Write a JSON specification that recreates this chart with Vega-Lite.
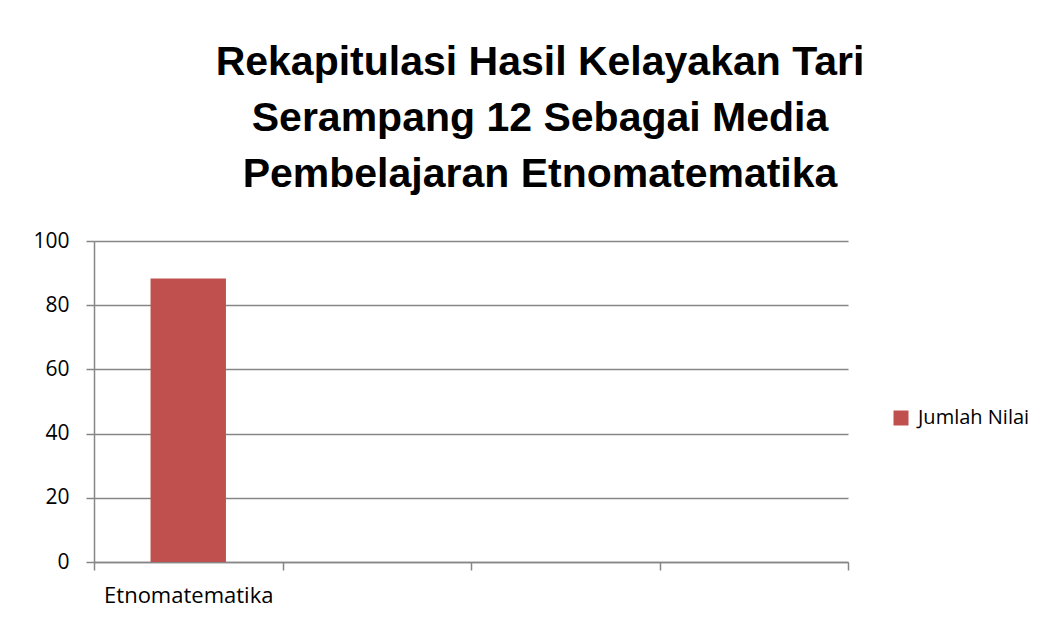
{
  "$schema": "https://vega.github.io/schema/vega-lite/v6.json",
  "width": 754,
  "height": 321,
  "autosize": {"type": "none"},
  "padding": {"left": 94, "top": 241, "right": 214, "bottom": 59},
  "background": "white",
  "title": {
    "text": ["Rekapitulasi Hasil Kelayakan Tari", "Serampang 12 Sebagai Media", "Pembelajaran Etnomatematika"],
    "anchor": "middle",
    "frame": "group",
    "dx": 69,
    "offset": 34,
    "font": "Liberation Sans",
    "fontSize": 41,
    "fontWeight": "bold",
    "lineHeight": 56,
    "color": "black"
  },
  "data": {
    "values": [
      {"kategori": "Etnomatematika", "seri": "Jumlah Nilai", "nilai": 88.3}
    ]
  },
  "mark": {"type": "bar", "color": "#C0504D", "width": {"band": 0.4}},
  "encoding": {
    "x": {
      "field": "kategori",
      "type": "nominal",
      "scale": {"domain": ["Etnomatematika", "k2", "k3", "k4"], "paddingInner": 0, "paddingOuter": 0},
      "axis": {
        "title": null,
        "labelAngle": 0,
        "labelExpr": "datum.value == 'Etnomatematika' ? datum.value : ''",
        "tickBand": "extent",
        "grid": false,
        "domainColor": "#868686",
        "domainWidth": 1.5,
        "tickColor": "#868686",
        "tickWidth": 1.5,
        "tickSize": 8,
        "labelFont": "Open Sans",
        "labelFontSize": 22,
        "labelColor": "black",
        "labelPadding": 15
      }
    },
    "y": {
      "field": "nilai",
      "type": "quantitative",
      "scale": {"domain": [0, 100]},
      "axis": {
        "title": null,
        "values": [0, 20, 40, 60, 80, 100],
        "grid": true,
        "gridColor": "#868686",
        "gridWidth": 1.5,
        "domainColor": "#868686",
        "domainWidth": 1.5,
        "tickColor": "#868686",
        "tickWidth": 1.5,
        "tickSize": 8,
        "labelFont": "Open Sans",
        "labelFontSize": 21,
        "labelColor": "black",
        "labelPadding": 17
      }
    },
    "color": {
      "field": "seri",
      "type": "nominal",
      "scale": {"range": ["#C0504D"]},
      "legend": {
        "title": null,
        "orient": "none",
        "legendX": 797,
        "legendY": 167,
        "symbolType": "square",
        "symbolSize": 225,
        "symbolStrokeWidth": 0,
        "labelFont": "Open Sans",
        "labelFontSize": 20,
        "labelColor": "black",
        "labelOffset": 7
      }
    }
  },
  "config": {"view": {"stroke": null}}
}
